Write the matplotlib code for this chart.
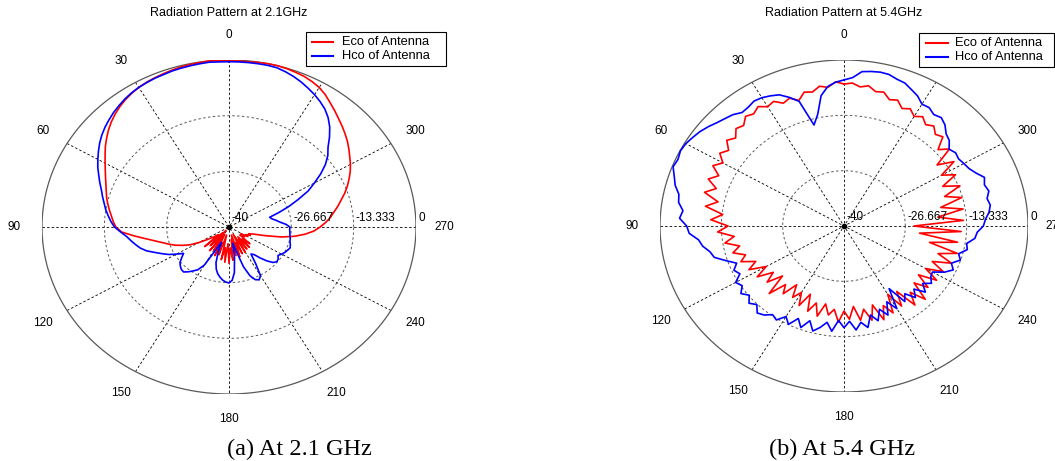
import numpy as np
import matplotlib
matplotlib.use('Agg')
from matplotlib import pyplot as plt
from matplotlib.patches import Rectangle
from matplotlib.lines import Line2D

plt.rcParams['font.family'] = ['Liberation Sans', 'DejaVu Sans']

# angle in degrees, 0 at top, counter-clockwise (MATLAB polar view)
theta = np.arange(0, 360, 3)

# gain in dB, 2.1 GHz
eco_21 = [-0.2, -0.1, 0.0, -0.1, -0.2, -0.3, -0.5, -0.7, -0.9, -1.1,
          -1.4, -1.8, -2.3, -2.9, -3.6, -4.4, -5.3, -6.3, -7.3, -8.4,
          -9.4, -10.3, -11.1, -11.8, -12.4, -12.9, -13.5, -14.1, -14.7, -15.2,
          -15.8, -17.0, -19.6, -22.0, -23.9, -25.4, -26.6, -27.8, -29.2, -30.6,
          -32.5, -34.5, -36.0, -37, -33, -38, -34, -39, -33, -37,
          -33.5, -38, -32.5, -36, -33, -38, -32, -35, -31.5, -36,
          -31.3, -35, -32, -37, -33, -38, -32.5, -36, -33, -38,
          -33, -36.5, -33.5, -37, -33.5, -36, -34, -37, -36, -37,
          -35.5, -36, -35, -35.5, -34.5, -32.0, -28.5, -25.8, -23.6, -21.8,
          -20.5, -19.3, -18.2, -17.3, -16.2, -15.2, -14.0, -12.9, -11.9, -10.9,
          -10.0, -9.2, -8.3, -7.4, -6.6, -5.8, -5.0, -4.1, -3.2, -2.2,
          -1.4, -0.9, -0.5, -0.3, -0.1, 0.0, 0.0, -0.1, -0.2, -0.2]
hco_21 = [-0.4, -0.4, -0.3, -0.4, -0.5, -0.6, -0.7, -0.9, -1.0, -1.2,
          -1.4, -1.7, -2.1, -2.6, -3.1, -3.7, -4.3, -5.0, -5.8, -6.7,
          -7.6, -8.5, -9.5, -10.4, -11.3, -12.0, -12.7, -13.3, -14.0, -14.7,
          -15.5, -16.8, -18.0, -18.8, -19.6, -20.4, -21.5, -23.0, -24.3, -25.5,
          -27.0, -28.4, -27.5, -26.5, -26.0, -25.6, -25.5, -26.2, -27.0, -27.8,
          -29.5, -34.0, -36.0, -33.5, -31.0, -29.5, -28.5, -27.8, -27.2, -26.8,
          -26.6, -27.2, -29.0, -32.5, -36.0, -34.0, -30.0, -27.5, -26.2, -25.8,
          -26.5, -29.5, -32.0, -31.5, -30.0, -28.5, -27.3, -26.8, -27.0, -27.5,
          -27.0, -26.6, -26.3, -26.0, -26.2, -26.5, -26.6, -26.8, -26.9, -27.0,
          -27.0, -27.8, -29.0, -29.8, -30.6, -31.0, -28.8, -26.3, -23.8, -21.0,
          -18.9, -16.6, -14.5, -12.8, -11.5, -9.6, -7.8, -6.3, -5.1, -4.2,
          -3.4, -2.7, -2.0, -1.4, -0.9, -0.5, -0.4, -0.4, -0.4, -0.4]

# gain in dB, 5.4 GHz
eco_54 = [-5.8, -5.2, -6.4, -5.9, -7.0, -6.6, -8.2, -7.0, -7.6, -6.3,
          -6.8, -5.7, -6.6, -6.0, -7.4, -6.8, -8.3, -7.2, -9.0, -7.8,
          -9.6, -8.0, -10.2, -8.4, -10.8, -8.6, -12.0, -9.5, -13.5, -11.0,
          -14.8, -12.5, -16.0, -13.8, -16.8, -15.0, -17.5, -16.0, -19.0, -16.8,
          -20.5, -17.5, -21.0, -18.5, -22.0, -17.0, -21.0, -19.0, -22.5, -19.5,
          -21.5, -18.5, -22.0, -18.0, -20.5, -17.5, -20.8, -18.3, -19.8, -16.8,
          -19.5, -17.5, -20.5, -17.0, -19.5, -16.5, -20.0, -15.8, -19.0, -16.5,
          -21.0, -17.0, -20.5, -15.5, -18.5, -15.0, -19.5, -16.5, -20.0, -16.0,
          -19.5, -15.8, -19.0, -15.0, -18.5, -14.5, -21.0, -15.0, -23.5, -14.5,
          -24.8, -14.0, -19.5, -13.8, -18.5, -13.5, -17.0, -13.0, -16.5, -12.8,
          -15.5, -11.5, -15.0, -10.5, -12.5, -9.6, -10.3, -9.0, -9.8, -8.6,
          -9.5, -8.3, -9.0, -7.5, -8.0, -6.6, -6.9, -5.8, -6.3, -5.5]
hco_54 = [-4.8, -5.3, -6.2, -8.2, -12.5, -14.8, -8.4, -6.8, -5.4, -4.8,
          -4.3, -4.1, -4.6, -4.8, -3.9, -3.4, -2.8, -2.0, -1.3, -0.8,
          -0.3, -0.1, -0.5, -0.2, -1.2, -2.0, -3.3, -3.6, -4.8, -4.2,
          -5.8, -6.3, -8.2, -8.9, -10.2, -10.8, -13.0, -15.0, -13.8, -14.6,
          -12.8, -13.6, -12.3, -13.5, -12.2, -13.2, -11.8, -12.4, -13.6, -13.0,
          -14.8, -13.4, -15.6, -13.8, -16.0, -13.8, -15.0, -16.5, -14.5, -17.2,
          -15.5, -17.0, -14.8, -16.5, -15.0, -17.8, -16.0, -18.5, -16.5, -19.5,
          -17.0, -22.0, -17.5, -19.0, -16.8, -18.5, -16.2, -18.0, -16.5, -17.5,
          -17.8, -15.5, -14.0, -15.0, -13.4, -14.2, -12.6, -13.0, -11.4, -11.0,
          -9.7, -9.2, -8.3, -7.8, -8.2, -7.4, -7.9, -7.3, -8.6, -9.5,
          -9.9, -10.3, -10.0, -10.6, -9.2, -8.6, -7.2, -6.4, -6.8, -6.0,
          -6.1, -4.8, -4.0, -3.1, -2.8, -2.2, -2.1, -2.3, -2.6, -4.2]

r_ticks = [-40, -26.667, -13.333, 0]
r_labels = ['-40', '-26.667', '-13.333', '0']
ang_ticks = list(range(0, 330, 30))  # 330 sits under the legend box
titles = ['Radiation Pattern at 2.1GHz', 'Radiation Pattern at 5.4GHz']
captions = ['(a) At 2.1 GHz', '(b) At 5.4 GHz']
series_names = ['Eco of Antenna', 'Hco of Antenna']
series_colors = ['#ff0000', '#0000ff']

RMIN, RMAX = -40.0, 0.0


def to_xy(ang, db):
    ang = np.radians(np.asarray(ang, dtype=float))
    rho = (np.clip(np.asarray(db, dtype=float), RMIN, RMAX) - RMIN) / (RMAX - RMIN)
    return -rho * np.sin(ang), rho * np.cos(ang)


def polar_frame(ax):
    t = np.linspace(0, 2 * np.pi, 400)
    # spokes
    for a in range(0, 180, 30):
        x, y = to_xy([a, a + 180], [RMAX, RMAX])
        ax.plot(x, y, color='black', lw=0.6, ls=(0, (3, 2.5)), zorder=1)
    # rings
    for r in r_ticks[1:-1]:
        f = (r - RMIN) / (RMAX - RMIN)
        ax.plot(f * np.cos(t), f * np.sin(t), color='0.35', lw=0.7,
                ls=(0, (2.5, 2.5)), zorder=1)
    ax.plot(np.cos(t), np.sin(t), color='0.35', lw=0.9, zorder=1)
    for r, lab in zip(r_ticks, r_labels):
        f = (r - RMIN) / (RMAX - RMIN)
        ax.text(f + 0.012, 0.018, lab, fontsize=8.5, ha='left', va='bottom', zorder=4)
    for a in ang_ticks:
        x, y = to_xy(a, RMAX)
        ax.text(1.15 * x, 1.15 * y, str(a), fontsize=8.5, ha='center',
                va='center', clip_on=False)
    ax.plot([0], [0], 'o', color='black', ms=3, zorder=5)


def legend_box(fig, left, top, right, bottom, line_x, text_x, rows_y):
    # MATLAB-like legend, positions in pixels from top-left
    fig.add_artist(Rectangle((left / W, 1 - bottom / H), (right - left) / W,
                             (bottom - top) / H, transform=fig.transFigure,
                             facecolor='white', edgecolor='black', lw=0.8, zorder=20))
    for name, col, ry in zip(series_names, series_colors, rows_y):
        fig.add_artist(Line2D([line_x[0] / W, line_x[1] / W], [1 - ry / H, 1 - ry / H],
                              transform=fig.transFigure, color=col, lw=1.5, zorder=21))
        fig.text(text_x / W, 1 - ry / H, name, fontsize=9.3, ha='left',
                 va='center', zorder=21)


fig = plt.figure(figsize=(10.55, 4.61), dpi=100)
W, H = 1055.0, 461.0
# (left px, right px, top px, bottom px) of the outer ring
boxes = [(42, 416, 60, 394), (660, 1028, 60, 392)]
data = [(eco_21, hco_21), (eco_54, hco_54)]

for k in range(2):
    x0, x1, y0, y1 = boxes[k]
    ax = fig.add_axes([x0 / W, 1 - y1 / H, (x1 - x0) / W, (y1 - y0) / H])
    ax.set_xlim(-1, 1)
    ax.set_ylim(-1, 1)
    ax.axis('off')
    polar_frame(ax)
    ang = theta.tolist() + [360]
    for vals, col, name in zip(data[k], series_colors, series_names):
        x, y = to_xy(ang, list(vals) + [vals[0]])
        ax.plot(x, y, color=col, lw=1.2, zorder=3, label=name)
    cx = (x0 + x1) / 2.0 / W
    fig.text(cx, 1 - 13 / H, titles[k], fontsize=9, ha='center', va='center')
    fig.text(cx + (70 if k == 0 else -2) / W, 1 - 449 / H, captions[k],
             fontsize=17.5, family='Liberation Serif', ha='center', va='center')

legend_box(fig, 306, 32, 446, 66, (312, 333), 342, (41.7, 55.7))
legend_box(fig, 919, 33, 1054, 67, (926, 948), 955, (42.7, 57.3))

fig.savefig('out.png', dpi=100)
